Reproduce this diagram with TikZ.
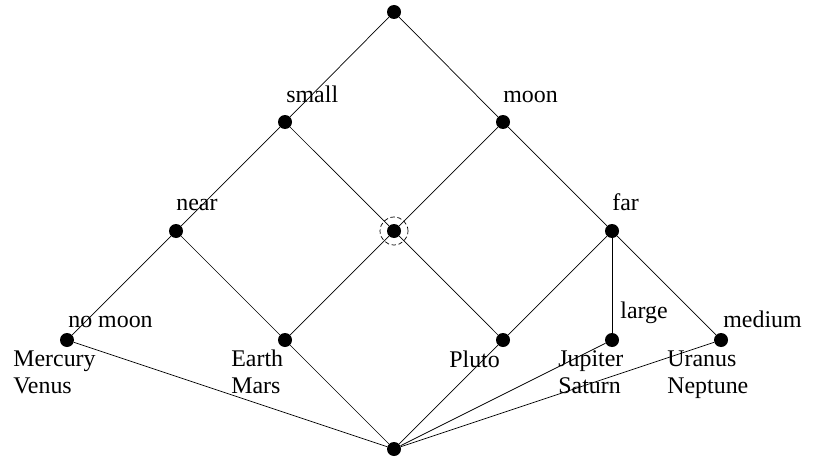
\documentclass[tikz,border=0pt]{standalone}
\usepackage{fontspec}
\setmainfont{Liberation Serif}
\usetikzlibrary{calc, positioning}

\tikzset{
  dot/.style={circle, fill=black, inner sep=0pt, minimum size=0.28cm},
  attr/.style={anchor=base west, inner sep=0pt},
  obj/.style={anchor=base west, inner sep=0pt, align=left},
}

\begin{document}
\begin{tikzpicture}[font=\fontsize{13.6}{14.8}\selectfont]
  \useasboundingbox (0,0) rectangle (16.28,9.2);

  % Lattice points
  \node[dot] (top)   at (7.88,8.96) {};
  \node[dot] (small) at (5.70,6.76) {};
  \node[dot] (moon)  at (10.06,6.76) {};
  \node[dot] (near)  at (3.52,4.58) {};
  \node[dot] (mid)   at (7.88,4.58) {};
  \node[dot] (far)   at (12.24,4.58) {};
  \node[dot] (mv)    at (1.34,2.40) {};
  \node[dot] (em)    at (5.70,2.40) {};
  \node[dot] (pl)    at (10.06,2.40) {};
  \node[dot] (js)    at (12.24,2.40) {};
  \node[dot] (un)    at (14.42,2.40) {};
  \node[dot] (bot)   at (7.88,0.22) {};

  % Edges
  \draw (top) -- (small);
  \draw (top) -- (moon);
  \draw (small) -- (near);
  \draw (small) -- (mid);
  \draw (moon) -- (mid);
  \draw (moon) -- (far);
  \draw (near) -- (mv);
  \draw (near) -- (em);
  \draw (mid) -- (em);
  \draw (mid) -- (pl);
  \draw (far) -- (pl);
  \draw (far) -- (js);
  \draw (far) -- (un);
  \draw (bot) -- (mv);
  \draw (bot) -- (em);
  \draw (bot) -- (pl);
  \draw (bot) -- (js);
  \draw (bot) -- (un);

  % marked concept
  \draw[dashed, dash pattern=on 2.5pt off 1.5pt] (mid) circle (0.28);

  % Attributes
  \node[attr] (l-small)  at ($(small)+(0.02,0.40)$) {small};
  \node[attr] (l-moon)   at ($(moon)+(0.0,0.40)$) {moon};
  \node[attr] (l-near)   at ($(near)+(0,0.42)$) {near};
  \node[attr] (l-far)    at ($(far)+(0,0.42)$) {far};
  \node[attr] (l-nomoon) at ($(mv)+(0.02,0.26)$) {no moon};
  \node[attr] (l-large)  at ($(js)+(0.16,0.44)$) {large};
  \node[attr] (l-medium) at ($(un)+(0.04,0.26)$) {medium};

  % Objects (base = last line)
  \node[obj] (o-mv) at ($(mv)+(-1.08,-1.06)$) {Mercury\\Venus};
  \node[obj] (o-em) at ($(em)+(-1.08,-1.06)$) {Earth\\Mars};
  \node[obj] (o-pl) at ($(pl)+(-1.08,-0.54)$) {Pluto};
  \node[obj] (o-js) at ($(js)+(-1.08,-1.06)$) {Jupiter\\Saturn};
  \node[obj] (o-un) at ($(un)+(-1.08,-1.06)$) {Uranus\\Neptune};
\end{tikzpicture}
\end{document}
